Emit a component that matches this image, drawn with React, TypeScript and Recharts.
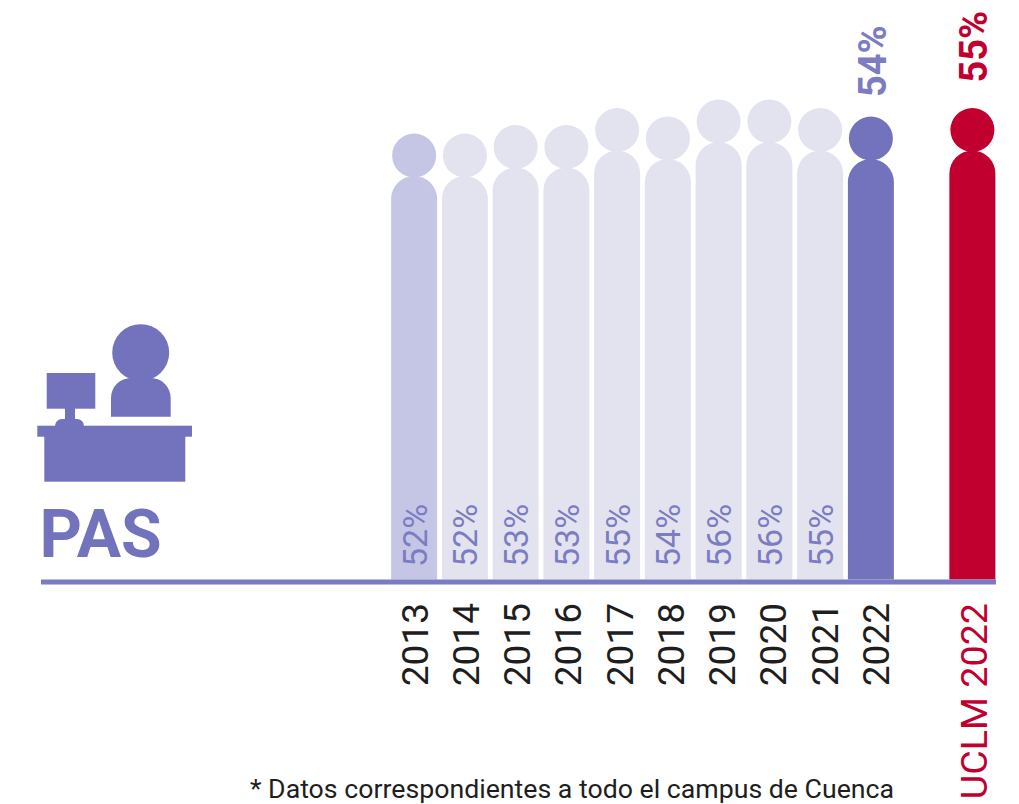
import { Bar, BarChart, LabelList, XAxis, YAxis } from "recharts";

const labels = ["2013", "2014", "2015", "2016", "2017", "2018", "2019", "2020", "2021", "2022", "UCLM 2022"];
const values = [52, 52, 53, 53, 55, 54, 56, 56, 55, 54, 55];
// slot on the axis, one empty slot before the UCLM figure
const slots = [0, 1, 2, 3, 4, 5, 6, 7, 8, 9, 11];

const data = labels.map((label, i) => ({ label, value: values[i], slot: slots[i] }));

const PURPLE = "#7373bd";
const RED = "#c1002f";
const LABEL_PURPLE = "#7c7cc3";
const FONT = "Roboto, sans-serif";

const fillFor = (i: number) => {
  if (i === 0) return "#c5c6e5";
  if (i === 9) return PURPLE;
  if (i === 10) return RED;
  return "#e3e3f0";
};

function Person({ x, y, width, height, index }: any) {
  const r = width / 2;
  const bottom = y + height - 2.5;
  const fill = fillFor(index);
  return (
    <g>
      <circle cx={x + r} cy={y - 20.5} r={22} fill={fill} />
      <path
        d={`M${x} ${bottom} V${y + r} A${r} ${r} 0 0 1 ${x + width} ${y + r} V${bottom} Z`}
        fill={fill}
      />
    </g>
  );
}

function YearTick({ x, payload }: any) {
  const label = labels[slots.indexOf(payload.value)];
  const isUclm = label.startsWith("UCLM");
  // the printed year labels drift slightly right of their bars
  const drift = isUclm ? 1.5 : payload.value * 0.5;
  return (
    <text
      transform={`translate(${x + 13.2 + drift},${603}) rotate(-90)`}
      textAnchor="end"
      fontFamily={FONT}
      fontSize={isUclm ? 37.7 : 37}
      fill={isUclm ? RED : "#1e1e1e"}
    >
      {label}
    </text>
  );
}

function ValueLabel({ x, y, width, value, index }: any) {
  const cx = x + width / 2;
  const pct = `${value}%`;
  if (index < 9) {
    return (
      <text
        transform={`translate(${cx + 12.5},${567}) rotate(-90)`}
        fontFamily={FONT}
        fontWeight={400}
        fontSize={34}
        fill={LABEL_PURPLE}
      >
        {pct}
      </text>
    );
  }
  return (
    <text
      transform={`translate(${cx + (index === 10 ? 14.5 : 15)},${index === 10 ? y - 68 : y - 62}) rotate(-90)`}
      fontFamily={FONT}
      fontWeight={700}
      fontSize={38}
      fill={index === 10 ? RED : LABEL_PURPLE}
    >
      {pct}
    </text>
  );
}

export default function App() {
  return (
    <div style={{ position: "absolute", left: 0, top: 0, width: 1019, height: 804 }}>
      <BarChart width={1019} height={804} data={data} margin={{ left: 41, right: 23, top: 10, bottom: 0 }}>
        <XAxis
          type="number"
          dataKey="slot"
          domain={[-7.36, 11.458]}
          ticks={slots}
          interval={0}
          height={222}
          tickLine={false}
          axisLine={{ stroke: "#7b7bc2", strokeWidth: 5 }}
          tick={<YearTick />}
        />
        <YAxis hide domain={[4.23, 71.53]} />
        <Bar dataKey="value" barSize={46} shape={<Person />} isAnimationActive={false}>
          <LabelList dataKey="value" content={<ValueLabel />} />
        </Bar>
        <g fill={PURPLE}>
          <circle cx={140.7} cy={352.7} r={28.5} />
          <path d="M111 416.7 V398 A20 20 0 0 1 131 378 H151 A20 20 0 0 1 170.7 398 V416.7 Z" />
          <rect x={46.7} y={373} width={48.6} height={35.7} />
          <rect x={65} y={408} width={10} height={13} />
          <path d="M55 426 A7 7 0 0 1 62 419 H77 A7 7 0 0 1 84 426 Z" />
          <rect x={37.3} y={425.7} width={154.7} height={11} />
          <rect x={44.3} y={436} width={141} height={45.7} />
          <text x={39.5} y={556.7} fontFamily={FONT} fontWeight={700} fontSize={66}>
            PAS
          </text>
        </g>
        <text x={250} y={798} fontFamily={FONT} fontSize={26.7} fill="#1e1e1e">
          * Datos correspondientes a todo el campus de Cuenca
        </text>
      </BarChart>
    </div>
  );
}
